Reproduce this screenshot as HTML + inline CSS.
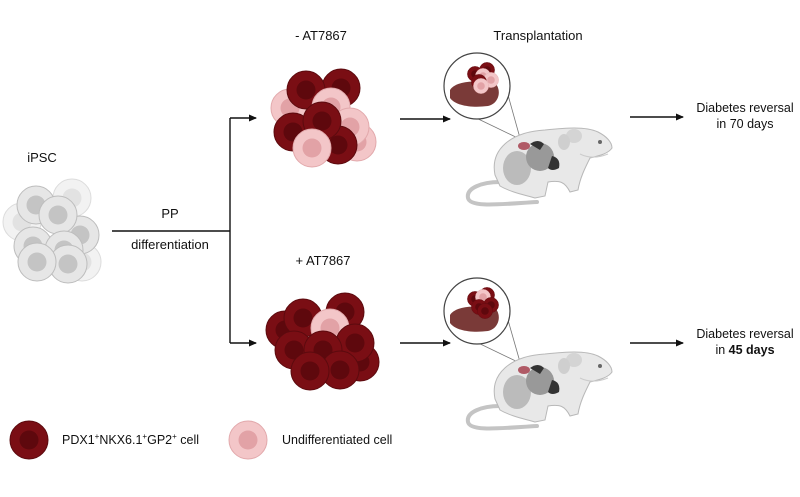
<!DOCTYPE html>
<html><head><meta charset="utf-8"><style>
html,body{margin:0;padding:0;background:#fff}
svg{display:block}
text{font-family:"Liberation Sans",sans-serif;fill:#111}
</style></head><body>
<svg width="800" height="497" viewBox="0 0 800 497" xmlns="http://www.w3.org/2000/svg">
<defs>
<g id="dk"><circle r="19" fill="#7a0e14" stroke="#5c0a0e" stroke-width="1"/><circle r="9.5" fill="#5e080d"/></g>
<g id="lt"><circle r="19" fill="#f3c6c8" stroke="#e2a9ac" stroke-width="1"/><circle r="9.5" fill="#e2a2a6"/></g>
<g id="gr"><circle r="19" fill="#e6e6e6" stroke="#bdbdbd" stroke-width="1"/><circle r="9.5" fill="#c4c4c4"/></g>
<g id="gf"><circle r="19" fill="#f2f2f2" stroke="#dcdcdc" stroke-width="1"/><circle r="9.5" fill="#e2e2e2"/></g>
<marker id="ar" markerWidth="8" markerHeight="8" refX="7" refY="4" orient="auto" markerUnits="userSpaceOnUse"><path d="M0,0.5 L8,4 L0,7.5z" fill="#111"/></marker>
<g id="mouse">
 <path d="M38,54 C20,54 4,60 6,70 C8,80 40,76 75,74" fill="none" stroke="#c4c4c4" stroke-width="4" stroke-linecap="round"/>
 <path d="M33,47 C28,22 48,4 83,2 C103,0 123,-2 136,4 C144,8 150,14 150,20 C146,26 136,28 128,30 C123,40 118,50 116,62 L108,64 C103,54 98,52 86,54 L83,68 L73,70 C63,67 48,64 38,58 Z" fill="#e8e8e8" stroke="#b8b8b8" stroke-width="1"/>
 <ellipse cx="112" cy="8" rx="8" ry="7" fill="#d4d4d4"/>
 <ellipse cx="102" cy="14" rx="6" ry="8" fill="#cfcfcf"/>
 <circle cx="138" cy="14" r="2" fill="#666"/>
 <path d="M118,26 C126,30 136,30 146,26" fill="none" stroke="#ccc" stroke-width="1"/>
 <ellipse cx="55" cy="40" rx="14" ry="17" fill="#bbbbbb"/>
 <ellipse cx="78" cy="29" rx="14" ry="14" fill="#999"/>
 <path d="M90,28 q9,2 7,12 q-7,4 -11,0z" fill="#333"/>
 <ellipse cx="62" cy="18" rx="6" ry="4" fill="#b05a66"/>
 <path d="M68,16 q8,-6 14,0 l-4,6z" fill="#333"/>
</g>
</defs>

<text x="42" y="162" font-size="13" text-anchor="middle">iPSC</text>
<text x="170" y="218" font-size="13" text-anchor="middle">PP</text>
<text x="170" y="249" font-size="13" text-anchor="middle">differentiation</text>
<text x="321" y="40" font-size="13" text-anchor="middle">- AT7867</text>
<text x="323" y="265" font-size="13" text-anchor="middle">+ AT7867</text>
<text x="538" y="40" font-size="13" text-anchor="middle">Transplantation</text>
<text x="745" y="112" font-size="12.5" text-anchor="middle">Diabetes reversal</text>
<text x="745" y="128" font-size="12.5" text-anchor="middle">in 70 days</text>
<text x="745" y="338" font-size="12.5" text-anchor="middle">Diabetes reversal</text>
<text x="745" y="354" font-size="12.5" text-anchor="middle">in <tspan font-weight="bold">45 days</tspan></text>

<g stroke="#111" stroke-width="1.4" fill="none">
<line x1="112" y1="231" x2="230" y2="231"/>
<line x1="230" y1="118" x2="230" y2="343"/>
<line x1="230" y1="118" x2="256" y2="118" marker-end="url(#ar)"/>
<line x1="230" y1="343" x2="256" y2="343" marker-end="url(#ar)"/>
<line x1="400" y1="119" x2="450" y2="119" marker-end="url(#ar)"/>
<line x1="400" y1="343" x2="450" y2="343" marker-end="url(#ar)"/>
<line x1="630" y1="117" x2="683" y2="117" marker-end="url(#ar)"/>
<line x1="630" y1="343" x2="683" y2="343" marker-end="url(#ar)"/>
</g>

<use href="#gf" x="72" y="198"/><use href="#gf" x="82" y="262"/><use href="#gf" x="22" y="222"/>
<use href="#gr" x="36" y="205"/><use href="#gr" x="80" y="235"/><use href="#gr" x="58" y="215"/>
<use href="#gr" x="33" y="246"/><use href="#gr" x="64" y="250"/><use href="#gr" x="68" y="264"/><use href="#gr" x="37" y="262"/>

<use href="#lt" x="357" y="142"/><use href="#lt" x="290" y="108"/>
<use href="#dk" x="341" y="88"/><use href="#dk" x="306" y="90"/>
<use href="#lt" x="331" y="107"/><use href="#lt" x="350" y="127"/>
<use href="#dk" x="293" y="132"/><use href="#dk" x="338" y="145"/><use href="#dk" x="322" y="121"/>
<use href="#lt" x="312" y="148"/>

<use href="#dk" x="360" y="362"/><use href="#dk" x="285" y="330"/>
<use href="#dk" x="345" y="312"/><use href="#dk" x="303" y="318"/>
<use href="#lt" x="330" y="328"/>
<use href="#dk" x="355" y="343"/><use href="#dk" x="294" y="350"/>
<use href="#dk" x="323" y="350"/><use href="#dk" x="340" y="370"/><use href="#dk" x="310" y="371"/>

<g>
<line x1="472" y1="116" x2="522" y2="140" stroke="#777" stroke-width="0.8"/>
<line x1="508" y1="95" x2="520" y2="138" stroke="#777" stroke-width="0.8"/>
<use href="#mouse" x="462" y="128"/>
<circle cx="477" cy="86" r="33" fill="#fff" stroke="#444" stroke-width="1.2"/>
<path d="M450,90 C456,80 480,80 496,84 C502,92 498,104 488,106 C472,108 456,106 450,98Z" fill="#7a3a38"/>
<g transform="translate(483,78) scale(0.4)">
<use href="#dk" x="-20" y="-10"/><use href="#dk" x="10" y="-20"/><use href="#lt" x="0" y="-5"/><use href="#lt" x="20" y="5"/><use href="#dk" x="-10" y="10"/><use href="#lt" x="-5" y="20"/>
</g>
</g>
<g>
<line x1="472" y1="340" x2="522" y2="364" stroke="#777" stroke-width="0.8"/>
<line x1="508" y1="320" x2="520" y2="362" stroke="#777" stroke-width="0.8"/>
<use href="#mouse" x="462" y="352"/>
<circle cx="477" cy="311" r="33" fill="#fff" stroke="#444" stroke-width="1.2"/>
<path d="M450,315 C456,305 480,305 496,309 C502,317 498,329 488,331 C472,333 456,331 450,323Z" fill="#7a3a38"/>
<g transform="translate(483,303) scale(0.4)">
<use href="#dk" x="-20" y="-10"/><use href="#dk" x="10" y="-20"/><use href="#lt" x="0" y="-15"/><use href="#dk" x="20" y="5"/><use href="#dk" x="-10" y="10"/><use href="#dk" x="5" y="20"/>
</g>
</g>

<use href="#dk" x="29" y="440"/>
<text x="62" y="444" font-size="12.5">PDX1<tspan font-size="8" dy="-5">+</tspan><tspan dy="5">NKX6.1</tspan><tspan font-size="8" dy="-5">+</tspan><tspan dy="5">GP2</tspan><tspan font-size="8" dy="-5">+</tspan><tspan dy="5"> cell</tspan></text>
<use href="#lt" x="248" y="440"/>
<text x="282" y="444" font-size="12.5">Undifferentiated cell</text>
</svg>
</body></html>
